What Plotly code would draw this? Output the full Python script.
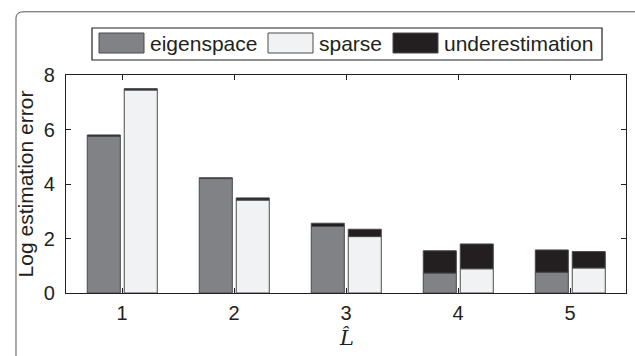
import plotly.graph_objects as go

categories = [1, 2, 3, 4, 5]
eigenspace = [5.75, 4.20, 2.44, 0.73, 0.76]
eigen_under = [0.05, 0.03, 0.12, 0.82, 0.82]
sparse = [7.45, 3.41, 2.07, 0.89, 0.92]
sparse_under = [0.05, 0.08, 0.27, 0.91, 0.60]
y_ticks = [0, 2, 4, 6, 8]
series_names = ["eigenspace", "sparse", "underestimation"]
series_colors = ["#808285", "#f1f2f4", "#231f20"]

fig = go.Figure()
edge = dict(color="#4a4a4a", width=1)
common = dict(width=0.295, showlegend=False)

fig.add_bar(x=categories, y=eigenspace, offset=-0.31, marker=dict(color=series_colors[0], line=edge), **common)
fig.add_bar(x=categories, y=eigen_under, base=eigenspace, offset=-0.31,
            marker=dict(color=series_colors[2], line=edge), **common)
fig.add_bar(x=categories, y=sparse, offset=0.02, marker=dict(color=series_colors[1], line=edge), **common)
fig.add_bar(x=categories, y=sparse_under, base=sparse, offset=0.02,
            marker=dict(color=series_colors[2], line=edge), **common)

# Manual legend (large swatches like the reference)
PX_L, PX_W, PX_B, PX_H = 66, 560, 293, 218
def px(x):
    return (x - PX_L) / PX_W
def py(y):
    return (PX_B - y) / PX_H

shapes = []
annotations = []
shapes.append(dict(type="rect", xref="paper", yref="paper", x0=px(92), x1=px(602),
                   y0=py(60), y1=py(28), line=dict(color="#231f20", width=1.2),
                   fillcolor="white"))
sw_x = [99, 268, 393]
sw_w = 45
txt_x = [148, 317, 442]
for i, name in enumerate(series_names):
    shapes.append(dict(type="rect", xref="paper", yref="paper",
                       x0=px(sw_x[i]), x1=px(sw_x[i] + sw_w),
                       y0=py(53), y1=py(33),
                       line=dict(color="#4a4a4a", width=1), fillcolor=series_colors[i]))
    annotations.append(dict(text=name, xref="paper", yref="paper", x=px(txt_x[i]),
                            y=py(43), xanchor="left", yanchor="middle", showarrow=False,
                            font=dict(size=21, color="#231f20", family="Liberation Sans, Arial")))

# Outer rounded frame
shapes.append(dict(type="path", xref="paper", yref="paper",
                   path="M -0.0893 -0.30 L -0.0893 1.262 Q -0.0893 1.29 -0.075 1.29 L 1.05 1.29",
                   line=dict(color="#555", width=1)))

annotations.append(dict(text="<i>L\u0302</i>", xref="paper", yref="paper", x=px(346),
                        y=py(338), xanchor="center", yanchor="middle", showarrow=False,
                        font=dict(size=21, family="DejaVu Serif, serif", color="#231f20")))

fig.update_layout(
    width=635, height=356,
    margin=dict(l=66, r=9, t=75, b=63),
    paper_bgcolor="white", plot_bgcolor="white",
    barmode="overlay",
    shapes=shapes, annotations=annotations,
    font=dict(family="Liberation Sans, Arial", color="#231f20", size=20),
    xaxis=dict(range=[0.5, 5.5], tickvals=categories, ticks="inside", ticklen=5,
               mirror="ticks", showline=True, linecolor="#231f20", linewidth=1.2,
               tickcolor="#231f20", showgrid=False, zeroline=False,
               tickfont=dict(size=20), ticklabelstandoff=2),
    yaxis=dict(range=[0, 8], tickvals=y_ticks, ticks="inside", ticklen=5,
               mirror="ticks", showline=True, linecolor="#231f20", linewidth=1.2,
               tickcolor="#231f20", showgrid=False, zeroline=False,
               title=dict(text="Log estimation error", font=dict(size=21), standoff=4),
               tickfont=dict(size=20), ticklabelstandoff=6),
)

fig.write_html("out.html")
